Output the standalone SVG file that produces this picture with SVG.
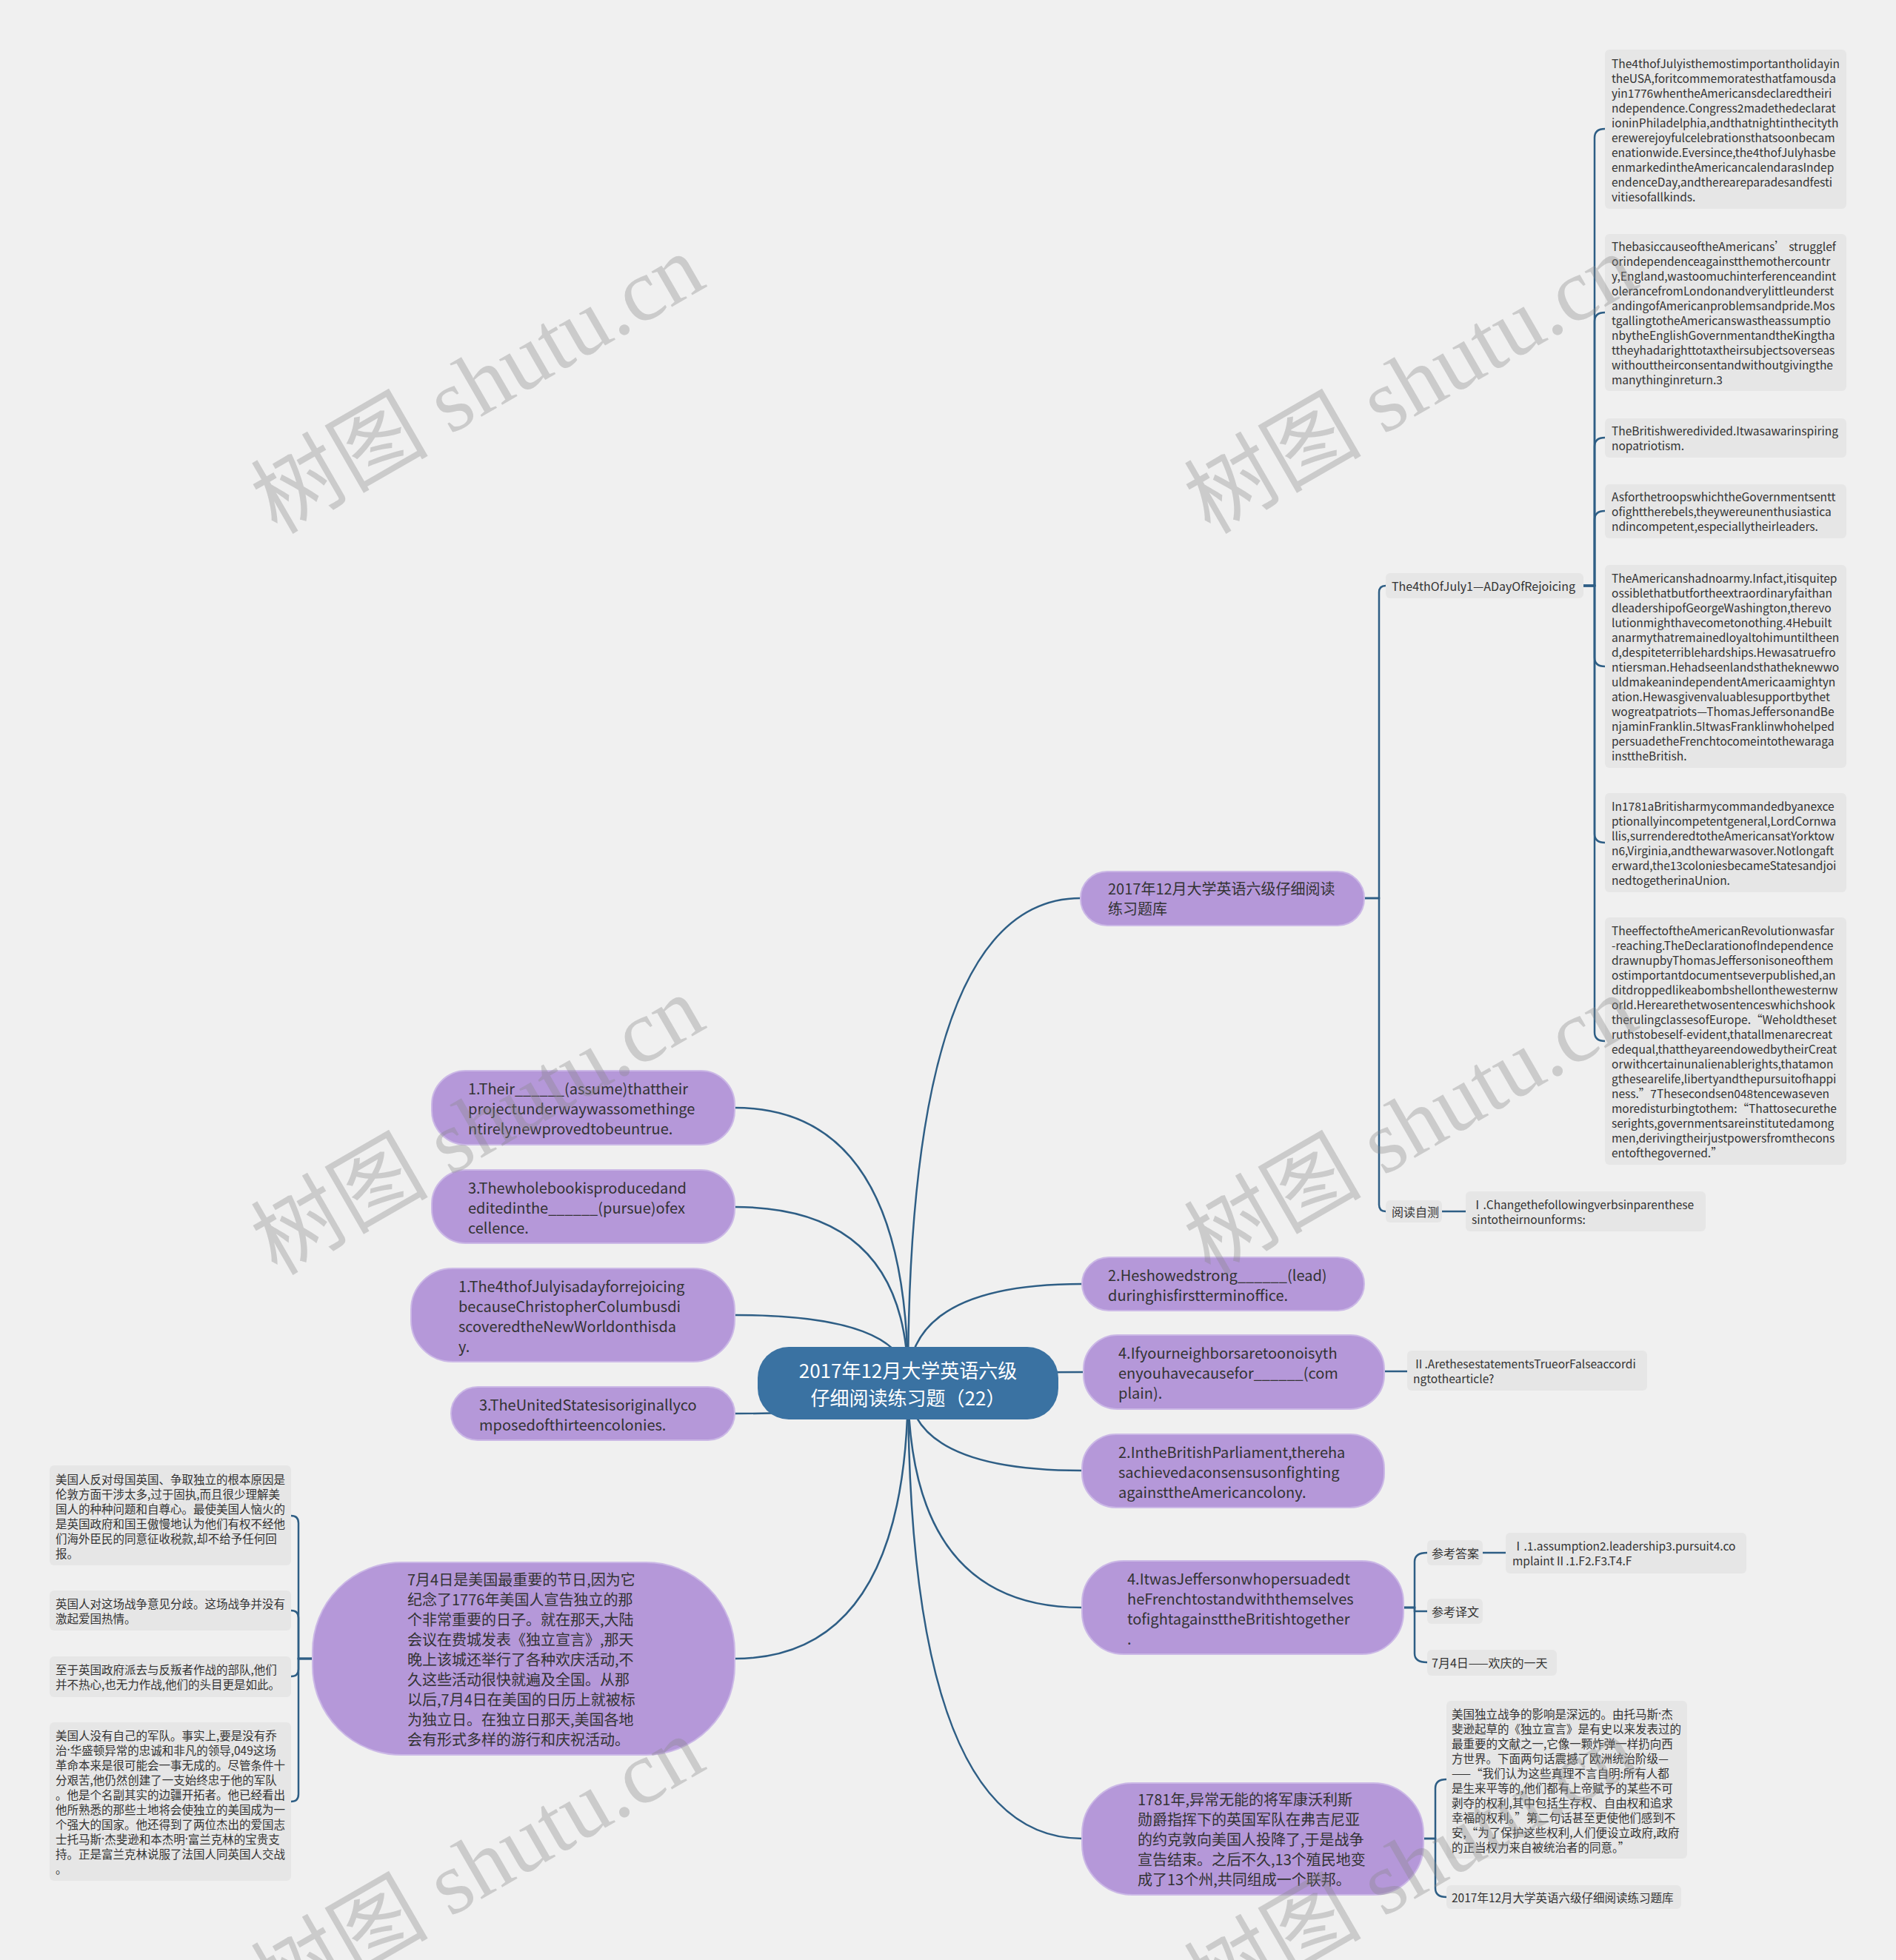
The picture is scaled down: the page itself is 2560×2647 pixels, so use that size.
<svg xmlns="http://www.w3.org/2000/svg" width="2560" height="2647" viewBox="0 0 2560 2647">
<style>
text{font-family:"Noto Sans CJK SC","Noto Sans",sans-serif;dominant-baseline:central;}
.p{fill:#b598d9;stroke:#cbb8e6;stroke-width:2;}
.c{fill:#3a72a2;}
.g{fill:#e6e6e6;}
.t20{font-size:20px;fill:#333;}
.t16{font-size:16px;fill:#333;}
.t15{font-size:15.5px;fill:#333;}
.tc{font-size:26px;fill:#fff;text-anchor:middle;}
.dot{font-family:"Noto Sans",sans-serif;}
.ln{fill:none;stroke:#2e5e85;stroke-width:2.5;}
.wm{font-family:"Liberation Serif","Noto Sans CJK SC",serif;font-size:120px;fill:#888;fill-opacity:0.35;text-anchor:middle;}
</style>
<rect x="0" y="0" width="2560" height="2647" fill="#f0f0f0"/>

<g id="connectors">
<path class="ln" d="M1226 1868 Q1226 1213 1459 1213"/>
<path class="ln" d="M1226 1868 Q1226 1734 1461 1734"/>
<path class="ln" d="M1226 1868 Q1226 1853 1463 1853"/>
<path class="ln" d="M1226 1868 Q1226 1986 1461 1986"/>
<path class="ln" d="M1226 1868 Q1226 2171 1461 2171"/>
<path class="ln" d="M1226 1868 Q1226 2483 1461 2483"/>
<path class="ln" d="M1226 1868 Q1226 1496 992 1496"/>
<path class="ln" d="M1226 1868 Q1226 1630 992 1630"/>
<path class="ln" d="M1226 1868 Q1226 1776 992 1776"/>
<path class="ln" d="M1226 1868 Q1226 1909 992 1909"/>
<path class="ln" d="M1226 1868 Q1226 2240 992 2240"/>
<path class="ln" d="M1842 1213 H1862 V800 Q1862 791 1871 791"/>
<path class="ln" d="M1842 1213 H1862 V1627 Q1862 1636 1871 1636"/>
<path class="ln" d="M2138 791 H2153 V186 Q2153 174 2167 174"/>
<path class="ln" d="M2138 791 H2153 V434 Q2153 422 2167 422"/>
<path class="ln" d="M2138 791 H2153 V603 Q2153 591 2167 591"/>
<path class="ln" d="M2138 791 H2153 V702 Q2153 690 2167 690"/>
<path class="ln" d="M2138 791 H2153 V888 Q2153 900 2167 900"/>
<path class="ln" d="M2138 791 H2153 V1126 Q2153 1138 2167 1138"/>
<path class="ln" d="M2138 791 H2153 V1394 Q2153 1406 2167 1406"/>
<path class="ln" d="M1947 1636 H1979"/>
<path class="ln" d="M1869 1852 H1900"/>
<path class="ln" d="M1895 2171 H1910 V2109 Q1910 2097 1927 2097"/>
<path class="ln" d="M1895 2171 H1910 V2176 H1927"/>
<path class="ln" d="M1895 2171 H1910 V2233 Q1910 2245 1927 2245"/>
<path class="ln" d="M2002 2097 H2033"/>
<path class="ln" d="M1922 2483 H1938 V2415 Q1938 2403 1953 2403"/>
<path class="ln" d="M1922 2483 H1938 V2550 Q1938 2562 1953 2562"/>
<path class="ln" d="M422 2240 H403 V2057 Q403 2047 393 2047"/>
<path class="ln" d="M422 2240 H403 V2185 Q403 2175 393 2175"/>
<path class="ln" d="M422 2240 H403 V2254 Q403 2264 393 2264"/>
<path class="ln" d="M422 2240 H403 V2423 Q403 2433 393 2433"/>
</g>

<g id="center">
<rect class="c" x="1023" y="1819" width="406" height="98" rx="42"/>
<text class="tc"><tspan x="1226" y="1849">2017年12月大学英语六级</tspan><tspan x="1226" y="1886">仔细阅读练习题（22）</tspan></text>
</g>

<g id="nodeA">
<rect class="p" x="1459" y="1177" width="383" height="73" rx="36"/>
<text class="t20"><tspan x="1496" y="1199">2017年12月大学英语六级仔细阅读</tspan><tspan x="1496" y="1226">练习题库</tspan></text>
</g>
<g id="nodeB">
<rect class="p" x="1461" y="1698" width="381" height="72" rx="36"/>
<text class="t20"><tspan x="1496" y="1721">2.Heshowedstrong______(lead)</tspan><tspan x="1496" y="1748">duringhisfirstterminoffice.</tspan></text>
</g>
<g id="nodeC">
<rect class="p" x="1463" y="1803" width="406" height="100" rx="46"/>
<text class="t20"><tspan x="1510" y="1826">4.Ifyourneighborsaretoonoisyth</tspan><tspan x="1510" y="1853">enyouhavecausefor______(com</tspan><tspan x="1510" y="1880">plain).</tspan></text>
</g>
<g id="nodeD">
<rect class="p" x="1461" y="1937" width="408" height="99" rx="46"/>
<text class="t20"><tspan x="1510" y="1960">2.IntheBritishParliament,thereha</tspan><tspan x="1510" y="1987">sachievedaconsensusonfighting</tspan><tspan x="1510" y="2014">againsttheAmericancolony.</tspan></text>
</g>
<g id="nodeE">
<rect class="p" x="1461" y="2108" width="434" height="126" rx="56"/>
<text class="t20"><tspan x="1522" y="2131">4.ItwasJeffersonwhopersuadedt</tspan><tspan x="1522" y="2158">heFrenchtostandwiththemselves</tspan><tspan x="1522" y="2185">tofightagainsttheBritishtogether</tspan><tspan x="1522" y="2212">.</tspan></text>
</g>
<g id="nodeF">
<rect class="p" x="1461" y="2408" width="461" height="151" rx="68"/>
<text class="t20"><tspan x="1536" y="2429">1781年,异常无能的将军康沃利斯</tspan><tspan x="1536" y="2456">勋爵指挥下的英国军队在弗吉尼亚</tspan><tspan x="1536" y="2483">的约克敦向美国人投降了,于是战争</tspan><tspan x="1536" y="2510">宣告结束。之后不久,13个殖民地变</tspan><tspan x="1536" y="2537">成了13个州,共同组成一个联邦。</tspan></text>
</g>
<g id="nodeG">
<rect class="p" x="583" y="1446" width="409" height="100" rx="46"/>
<text class="t20"><tspan x="632" y="1469">1.Their______(assume)thattheir</tspan><tspan x="632" y="1496">projectunderwaywassomethinge</tspan><tspan x="632" y="1523">ntirelynewprovedtobeuntrue.</tspan></text>
</g>
<g id="nodeH">
<rect class="p" x="583" y="1580" width="409" height="99" rx="46"/>
<text class="t20"><tspan x="632" y="1603">3.Thewholebookisproducedand</tspan><tspan x="632" y="1630">editedinthe______(pursue)ofex</tspan><tspan x="632" y="1657">cellence.</tspan></text>
</g>
<g id="nodeI">
<rect class="p" x="555" y="1713" width="437" height="126" rx="56"/>
<text class="t20"><tspan x="619" y="1736">1.The4thofJulyisadayforrejoicing</tspan><tspan x="619" y="1763">becauseChristopherColumbusdi</tspan><tspan x="619" y="1790">scoveredtheNewWorldonthisda</tspan><tspan x="619" y="1817">y.</tspan></text>
</g>
<g id="nodeJ">
<rect class="p" x="609" y="1873" width="383" height="72" rx="36"/>
<text class="t20"><tspan x="647" y="1896">3.TheUnitedStatesisoriginallyco</tspan><tspan x="647" y="1923">mposedofthirteencolonies.</tspan></text>
</g>
<g id="nodeK">
<rect class="p" x="422" y="2110" width="570" height="260" rx="120"/>
<text class="t20"><tspan x="550" y="2132">7月4日是美国最重要的节日,因为它</tspan><tspan x="550" y="2159">纪念了1776年美国人宣告独立的那</tspan><tspan x="550" y="2186">个非常重要的日子。就在那天,大陆</tspan><tspan x="550" y="2213">会议在费城发表《独立宣言》,那天</tspan><tspan x="550" y="2240">晚上该城还举行了各种欢庆活动,不</tspan><tspan x="550" y="2267">久这些活动很快就遍及全国。从那</tspan><tspan x="550" y="2294">以后,7月4日在美国的日历上就被标</tspan><tspan x="550" y="2321">为独立日。在独立日那天,美国各地</tspan><tspan x="550" y="2348">会有形式多样的游行和庆祝活动。</tspan></text>
</g>

<g id="label-july">
<rect class="g" x="1871" y="774" width="267" height="34" rx="6"/>
<text class="t16" x="1879" y="791">The4thOfJuly1—ADayOfRejoicing</text>
</g>
<g id="label-ydzc">
<rect class="g" x="1871" y="1621" width="76" height="30" rx="6"/>
<text class="t16" x="1879" y="1636">阅读自测</text>
</g>
<g id="box-q1">
<rect class="g" x="1979" y="1609" width="324" height="54" rx="6"/>
<text class="t15"><tspan x="1987" y="1626">Ⅰ.Changethefollowingverbsinparenthese</tspan><tspan x="1987" y="1646">sintotheirnounforms:</tspan></text>
</g>
<g id="box-q2">
<rect class="g" x="1900" y="1824" width="324" height="54" rx="6"/>
<text class="t15"><tspan x="1908" y="1841">Ⅱ.ArethesestatementsTrueorFalseaccordi</tspan><tspan x="1908" y="1861">ngtothearticle?</tspan></text>
</g>
<g id="label-ckda">
<rect class="g" x="1927" y="2080" width="75" height="34" rx="6"/>
<text class="t16" x="1933" y="2097">参考答案</text>
</g>
<g id="box-answer">
<rect class="g" x="2033" y="2070" width="325" height="55" rx="6"/>
<text class="t15"><tspan x="2042" y="2087">Ⅰ.1.assumption2.leadership3.pursuit4.co</tspan><tspan x="2042" y="2107">mplaintⅡ.1.F2.F3.T4.F</tspan></text>
</g>
<g id="label-ckyw">
<rect class="g" x="1927" y="2159" width="75" height="34" rx="6"/>
<text class="t16" x="1933" y="2176">参考译文</text>
</g>
<g id="label-july-cn">
<rect class="g" x="1927" y="2228" width="175" height="35" rx="6"/>
<text class="t16" x="1933" y="2245">7月4日——欢庆的一天</text>
</g>
<g id="box-effect-cn">
<rect class="g" x="1953" y="2297" width="325" height="213" rx="6"/>
<text class="t15"><tspan x="1960" y="2314">美国独立战争的影响是深远的。由托马斯<tspan class="dot">·</tspan>杰</tspan><tspan x="1960" y="2334">斐逊起草的《独立宣言》是有史以来发表过的</tspan><tspan x="1960" y="2354">最重要的文献之一,它像一颗炸弹一样扔向西</tspan><tspan x="1960" y="2374">方世界。下面两句话震撼了欧洲统治阶级—</tspan><tspan x="1960" y="2394">——“我们认为这些真理不言自明:所有人都</tspan><tspan x="1960" y="2414">是生来平等的,他们都有上帝赋予的某些不可</tspan><tspan x="1960" y="2434">剥夺的权利,其中包括生存权、自由权和追求</tspan><tspan x="1960" y="2454">幸福的权利。”第二句话甚至更使他们感到不</tspan><tspan x="1960" y="2474">安,“为了保护这些权利,人们便设立政府,政府</tspan><tspan x="1960" y="2494">的正当权力来自被统治者的同意。”</tspan></text>
</g>
<g id="box-tiku">
<rect class="g" x="1953" y="2546" width="317" height="32" rx="6"/>
<text class="t15" x="1960" y="2562">2017年12月大学英语六级仔细阅读练习题库</text>
</g>

<g id="box-r1">
<rect class="g" x="2167" y="67" width="326" height="215" rx="6"/>
<text class="t15"><tspan x="2176" y="85">The4thofJulyisthemostimportantholidayin</tspan><tspan x="2176" y="105">theUSA,foritcommemoratesthatfamousda</tspan><tspan x="2176" y="125">yin1776whentheAmericansdeclaredtheiri</tspan><tspan x="2176" y="145">ndependence.Congress2madethedeclarat</tspan><tspan x="2176" y="165">ioninPhiladelphia,andthatnightinthecityth</tspan><tspan x="2176" y="185">erewerejoyfulcelebrationsthatsoonbecam</tspan><tspan x="2176" y="205">enationwide.Eversince,the4thofJulyhasbe</tspan><tspan x="2176" y="225">enmarkedintheAmericancalendarasIndep</tspan><tspan x="2176" y="245">endenceDay,andthereareparadesandfesti</tspan><tspan x="2176" y="265">vitiesofallkinds.</tspan></text>
</g>
<g id="box-r2">
<rect class="g" x="2167" y="316" width="326" height="212" rx="6"/>
<text class="t15"><tspan x="2176" y="332">ThebasiccauseoftheAmericans’ strugglef</tspan><tspan x="2176" y="352">orindependenceagainstthemothercountr</tspan><tspan x="2176" y="372">y,England,wastoomuchinterferenceandint</tspan><tspan x="2176" y="392">olerancefromLondonandverylittleunderst</tspan><tspan x="2176" y="412">andingofAmericanproblemsandpride.Mos</tspan><tspan x="2176" y="432">tgallingtotheAmericanswastheassumptio</tspan><tspan x="2176" y="452">nbytheEnglishGovernmentandtheKingtha</tspan><tspan x="2176" y="472">ttheyhadarighttotaxtheirsubjectsoverseas</tspan><tspan x="2176" y="492">withouttheirconsentandwithoutgivingthe</tspan><tspan x="2176" y="512">manythinginreturn.3</tspan></text>
</g>
<g id="box-r3">
<rect class="g" x="2167" y="565" width="326" height="53" rx="6"/>
<text class="t15"><tspan x="2176" y="581">TheBritishweredivided.Itwasawarinspiring</tspan><tspan x="2176" y="601">nopatriotism.</tspan></text>
</g>
<g id="box-r4">
<rect class="g" x="2167" y="654" width="326" height="73" rx="6"/>
<text class="t15"><tspan x="2176" y="670">AsforthetroopswhichtheGovernmentsentt</tspan><tspan x="2176" y="690">ofighttherebels,theywereunenthusiastica</tspan><tspan x="2176" y="710">ndincompetent,especiallytheirleaders.</tspan></text>
</g>
<g id="box-r5">
<rect class="g" x="2167" y="763" width="326" height="274" rx="6"/>
<text class="t15"><tspan x="2176" y="780">TheAmericanshadnoarmy.Infact,itisquitep</tspan><tspan x="2176" y="800">ossiblethatbutfortheextraordinaryfaithan</tspan><tspan x="2176" y="820">dleadershipofGeorgeWashington,therevo</tspan><tspan x="2176" y="840">lutionmighthavecometonothing.4Hebuilt</tspan><tspan x="2176" y="860">anarmythatremainedloyaltohimuntiltheen</tspan><tspan x="2176" y="880">d,despiteterriblehardships.Hewasatruefro</tspan><tspan x="2176" y="900">ntiersman.Hehadseenlandsthatheknewwo</tspan><tspan x="2176" y="920">uldmakeanindependentAmericaamightyn</tspan><tspan x="2176" y="940">ation.Hewasgivenvaluablesupportbythet</tspan><tspan x="2176" y="960">wogreatpatriots—ThomasJeffersonandBe</tspan><tspan x="2176" y="980">njaminFranklin.5ItwasFranklinwhohelped</tspan><tspan x="2176" y="1000">persuadetheFrenchtocomeintothewaraga</tspan><tspan x="2176" y="1020">insttheBritish.</tspan></text>
</g>
<g id="box-r6">
<rect class="g" x="2167" y="1071" width="326" height="134" rx="6"/>
<text class="t15"><tspan x="2176" y="1088">In1781aBritisharmycommandedbyanexce</tspan><tspan x="2176" y="1108">ptionallyincompetentgeneral,LordCornwa</tspan><tspan x="2176" y="1128">llis,surrenderedtotheAmericansatYorktow</tspan><tspan x="2176" y="1148">n6,Virginia,andthewarwasover.Notlongaft</tspan><tspan x="2176" y="1168">erward,the13coloniesbecameStatesandjoi</tspan><tspan x="2176" y="1188">nedtogetherinaUnion.</tspan></text>
</g>
<g id="box-r7">
<rect class="g" x="2167" y="1239" width="326" height="334" rx="6"/>
<text class="t15"><tspan x="2176" y="1256">TheeffectoftheAmericanRevolutionwasfar</tspan><tspan x="2176" y="1276">-reaching.TheDeclarationofIndependence</tspan><tspan x="2176" y="1296">drawnupbyThomasJeffersonisoneofthem</tspan><tspan x="2176" y="1316">ostimportantdocumentseverpublished,an</tspan><tspan x="2176" y="1336">ditdroppedlikeabombshellonthewesternw</tspan><tspan x="2176" y="1356">orld.Herearethetwosentenceswhichshook</tspan><tspan x="2176" y="1376">therulingclassesofEurope.“Weholdtheset</tspan><tspan x="2176" y="1396">ruthstobeself-evident,thatallmenarecreat</tspan><tspan x="2176" y="1416">edequal,thattheyareendowedbytheirCreat</tspan><tspan x="2176" y="1436">orwithcertainunalienablerights,thatamon</tspan><tspan x="2176" y="1456">gthesearelife,libertyandthepursuitofhappi</tspan><tspan x="2176" y="1476">ness.”7Thesecondsen048tencewaseven</tspan><tspan x="2176" y="1496">moredisturbingtothem:“Thattosecurethe</tspan><tspan x="2176" y="1516">serights,governmentsareinstitutedamong</tspan><tspan x="2176" y="1536">men,derivingtheirjustpowersfromthecons</tspan><tspan x="2176" y="1556">entofthegoverned.”</tspan></text>
</g>

<g id="box-l1">
<rect class="g" x="67" y="1979" width="326" height="135" rx="6"/>
<text class="t15"><tspan x="75" y="1997">美国人反对母国英国、争取独立的根本原因是</tspan><tspan x="75" y="2017">伦敦方面干涉太多,过于固执,而且很少理解美</tspan><tspan x="75" y="2037">国人的种种问题和自尊心。最使美国人恼火的</tspan><tspan x="75" y="2057">是英国政府和国王傲慢地认为他们有权不经他</tspan><tspan x="75" y="2077">们海外臣民的同意征收税款,却不给予任何回</tspan><tspan x="75" y="2097">报。</tspan></text>
</g>
<g id="box-l2">
<rect class="g" x="67" y="2148" width="326" height="54" rx="6"/>
<text class="t15"><tspan x="75" y="2165">英国人对这场战争意见分歧。这场战争并没有</tspan><tspan x="75" y="2185">激起爱国热情。</tspan></text>
</g>
<g id="box-l3">
<rect class="g" x="67" y="2237" width="326" height="55" rx="6"/>
<text class="t15"><tspan x="75" y="2254">至于英国政府派去与反叛者作战的部队,他们</tspan><tspan x="75" y="2274">并不热心,也无力作战,他们的头目更是如此。</tspan></text>
</g>
<g id="box-l4">
<rect class="g" x="67" y="2326" width="326" height="214" rx="6"/>
<text class="t15"><tspan x="75" y="2343">美国人没有自己的军队。事实上,要是没有乔</tspan><tspan x="75" y="2363">治<tspan class="dot">·</tspan>华盛顿异常的忠诚和非凡的领导,049这场</tspan><tspan x="75" y="2383">革命本来是很可能会一事无成的。尽管条件十</tspan><tspan x="75" y="2403">分艰苦,他仍然创建了一支始终忠于他的军队</tspan><tspan x="75" y="2423">。他是个名副其实的边疆开拓者。他已经看出</tspan><tspan x="75" y="2443">他所熟悉的那些土地将会使独立的美国成为一</tspan><tspan x="75" y="2463">个强大的国家。他还得到了两位杰出的爱国志</tspan><tspan x="75" y="2483">士托马斯<tspan class="dot">·</tspan>杰斐逊和本杰明<tspan class="dot">·</tspan>富兰克林的宝贵支</tspan><tspan x="75" y="2503">持。正是富兰克林说服了法国人同英国人交战</tspan><tspan x="75" y="2523">。</tspan></text>
</g>

<g id="watermarks">
<text class="wm" transform="translate(645 519) rotate(-30)">树图 shutu.cn</text>
<text class="wm" transform="translate(1905 519) rotate(-30)">树图 shutu.cn</text>
<text class="wm" transform="translate(645 1520) rotate(-30)">树图 shutu.cn</text>
<text class="wm" transform="translate(1905 1520) rotate(-30)">树图 shutu.cn</text>
<text class="wm" transform="translate(645 2521) rotate(-30)">树图 shutu.cn</text>
<text class="wm" transform="translate(1905 2521) rotate(-30)">树图 shutu.cn</text>
</g>
</svg>
